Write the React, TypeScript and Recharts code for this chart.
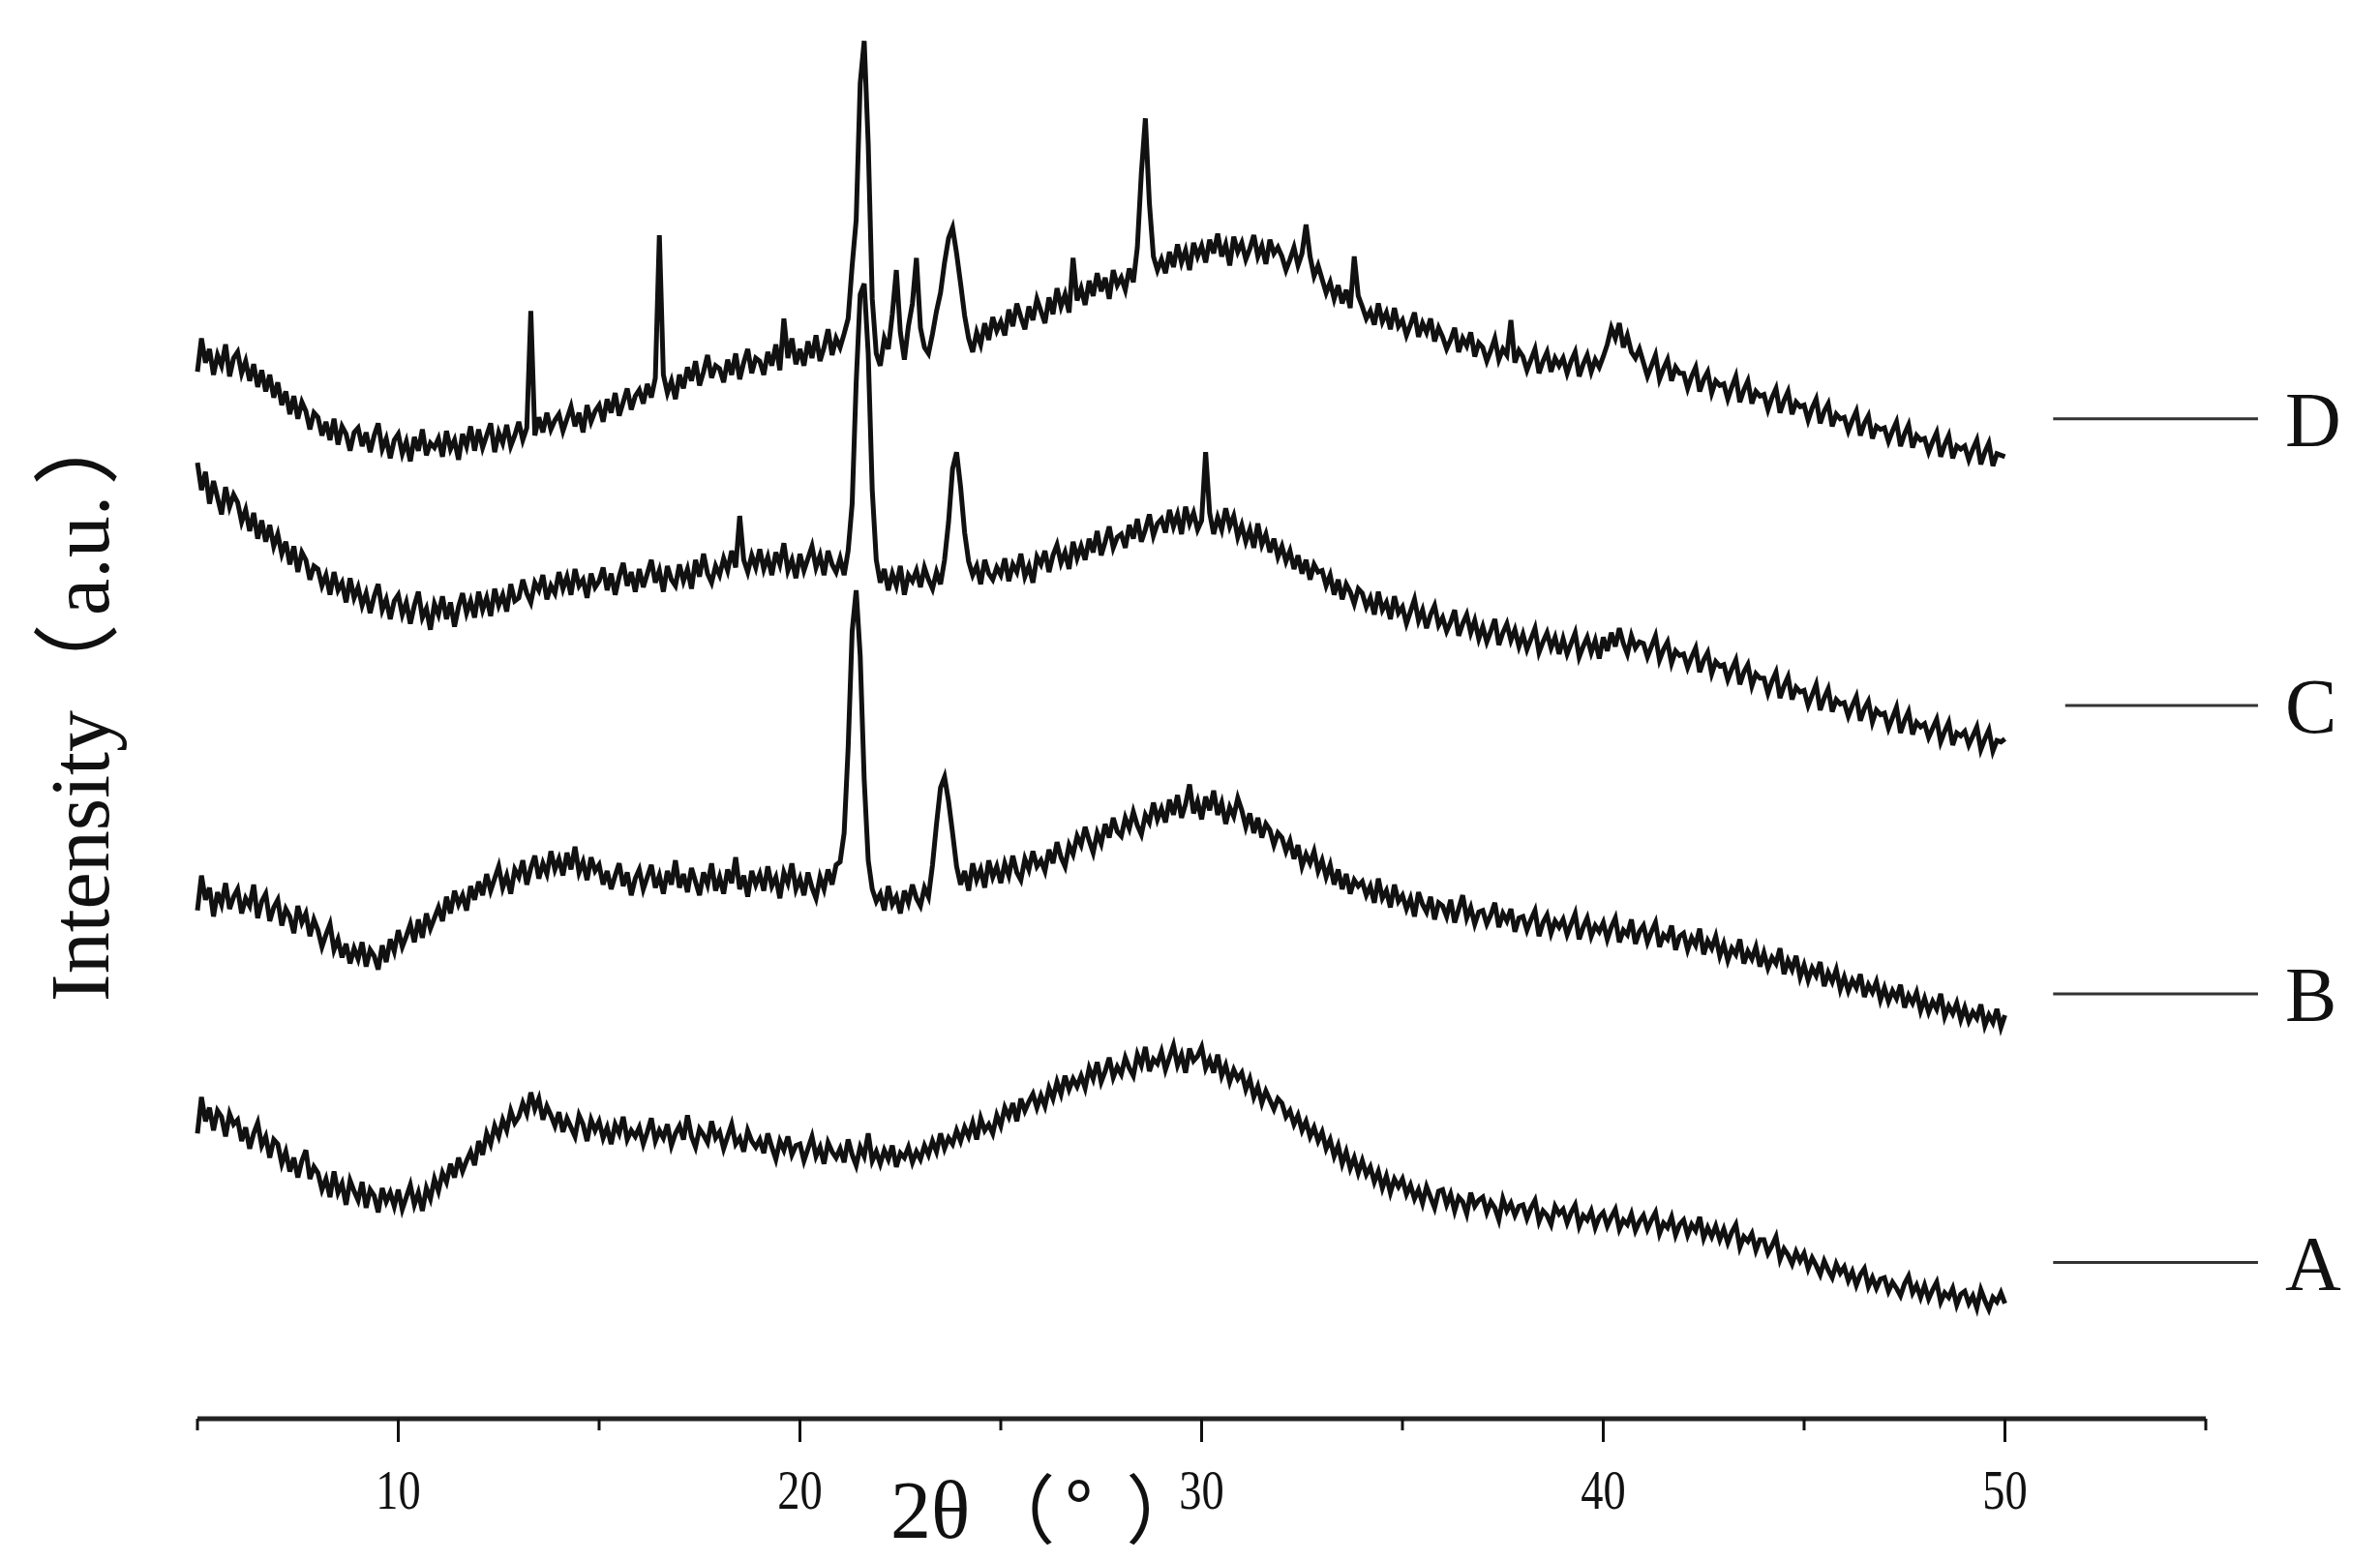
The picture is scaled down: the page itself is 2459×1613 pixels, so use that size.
import React from "react";
import { LineChart, Line, XAxis, YAxis, ReferenceLine } from "recharts";

// 2θ grid: 5.0 .. 50.0 in 0.1° steps (one row per degree below)
const X_START = 5;
const X_STEP = 0.1;

// intensities (arbitrary units, height above the axis)
const sampleA = [
  188, 212, 196, 205, 190, 203, 199, 186, 201, 194,
  197, 183, 192, 178, 188, 195, 180, 186, 172, 184,
  181, 168, 176, 163, 172, 159, 170, 177, 158, 166,
  162, 151, 158, 146, 163, 149, 155, 141, 157, 150,
  144, 156, 139, 151, 147, 136, 152, 143, 149, 140,
  151, 138, 146, 154, 141, 149, 137, 152, 145, 158,
  150, 162, 156, 168, 159, 172, 163, 170, 176, 167,
  183, 174, 188, 181, 193, 186, 197, 190, 203, 195,
  199, 208, 201, 215, 204, 211, 197, 206, 200, 193,
  202, 189, 198, 192, 186, 200, 194, 183, 197, 190,
  196, 185, 192, 181, 194, 188, 199, 184, 190, 186,
  192, 181, 189, 198, 183, 190, 185, 194, 180, 188,
  193, 184, 200, 186, 179, 191, 187, 182, 196, 185,
  189, 178, 186, 194, 181, 185, 176, 190, 183, 179,
  184, 175, 188, 179, 171, 183, 177, 186, 174, 180,
  181, 170, 178, 186, 173, 179, 168, 182, 176, 172,
  178, 169, 184, 174, 167, 179, 173, 188, 170, 176,
  168, 177, 171, 180, 166, 175, 172, 179, 169, 176,
  171, 180, 174, 183, 176, 188, 178, 185, 181, 190,
  183, 192, 186, 195, 184, 198, 190, 194, 188, 200,
  193, 205, 199, 208, 196, 211, 203, 209, 214, 205,
  213, 206, 218, 211, 222, 214, 226, 217, 224, 219,
  226, 218, 231, 224, 235, 222, 229, 238, 225, 232,
  227, 238, 231, 226, 240, 233, 245, 229, 237, 234,
  242, 230, 238, 246, 233, 240, 228, 244, 236, 239,
  245, 231, 237, 228, 240, 226, 233, 222, 230, 224,
  228, 217, 224, 212, 219, 208, 216, 210, 204, 211,
  208, 199, 203, 194, 200, 190, 196, 186, 192, 183,
  189, 178, 184, 173, 180, 168, 176, 165, 172, 162,
  170, 161, 166, 156, 163, 152, 160, 149, 158, 153,
  158, 148, 154, 145, 151, 142, 153, 146, 139, 150,
  151, 141, 148, 137, 146, 143, 135, 149, 140, 144,
  146, 136, 143, 139, 131, 145, 137, 142, 134, 140,
  141, 132, 139, 144, 130, 137, 134, 128, 140, 135,
  138, 129, 136, 141, 127, 134, 131, 137, 126, 133,
  136, 127, 133, 138, 125, 131, 128, 135, 124, 130,
  134, 125, 131, 136, 122, 129, 126, 133, 121, 128,
  131, 121, 128, 124, 133, 119, 126, 120, 127, 118,
  125, 116, 123, 128, 113, 120, 117, 122, 111, 118,
  118, 109, 114, 120, 105, 112, 108, 102, 110, 104,
  109, 99, 106, 101, 95, 104, 98, 93, 102, 96,
  100, 91, 97, 88, 95, 99, 87, 93, 86, 92,
  93, 84, 90, 86, 81, 89, 94, 83, 88, 80,
  88, 79, 85, 90, 77, 83, 80, 86, 75, 82,
  84, 76, 81, 73, 85, 78, 72, 80, 77, 83,
  76,
];

const sampleB = [
  335, 358, 342, 350, 331, 347, 339, 353, 336, 344,
  349, 333, 343, 338, 352, 330, 341, 346, 328, 337,
  342, 325, 336, 331, 320, 338, 327, 333, 318, 329,
  322, 311, 319, 326, 309, 316, 304, 313, 300, 310,
  303, 314, 298, 309, 305, 296, 312, 301, 316, 308,
  322, 311, 318, 326, 314, 329, 317, 333, 323, 330,
  337, 328, 344, 333, 348, 339, 345, 335, 351, 342,
  354, 345, 359, 348, 356, 364, 350, 358, 346, 362,
  357, 368, 352, 363, 371, 356, 366, 359, 374, 362,
  369, 358, 373, 362, 377, 360, 367, 355, 370, 361,
  365, 352, 361, 349, 358, 366, 351, 360, 345, 356,
  362, 349, 357, 365, 350, 358, 346, 361, 352, 368,
  350, 359, 347, 363, 354, 345, 360, 352, 366, 348,
  357, 346, 362, 353, 370, 349, 358, 344, 361, 352,
  359, 348, 364, 351, 357, 343, 360, 353, 366, 349,
  356, 345, 360, 350, 343, 357, 349, 362, 352, 365,
  367, 386, 442, 519, 546, 503, 421, 368, 349, 341,
  346, 335, 351, 339, 344, 333, 348, 340, 352, 343,
  338, 350, 344, 365, 392, 416, 423, 407, 386, 364,
  352, 361, 348, 366, 355, 362, 350, 368, 357, 364,
  353, 366, 358, 371, 360, 355, 369, 362, 374, 364,
  368, 361, 375, 366, 380, 370, 364, 378, 372, 384,
  378, 390, 381, 373, 386, 379, 392, 383, 396, 387,
  384, 396, 389, 400, 391, 385, 398, 393, 406, 395,
  402, 393, 408, 398, 411, 396, 405, 418, 399, 407,
  395, 410, 401, 414, 398, 406, 392, 403, 397, 409,
  401, 390, 399, 386, 396, 383, 392, 388, 378, 386,
  383, 374, 381, 369, 378, 364, 372, 366, 374, 361,
  368, 357, 365, 352, 362, 349, 359, 346, 355, 351,
  354, 345, 351, 340, 356, 343, 348, 337, 352, 341,
  345, 336, 343, 331, 347, 339, 334, 344, 329, 340,
  338, 331, 342, 327, 336, 345, 330, 337, 326, 334,
  335, 326, 332, 340, 324, 333, 328, 336, 321, 330,
  331, 322, 329, 335, 318, 327, 332, 320, 328, 324,
  329, 319, 326, 333, 316, 324, 330, 318, 325, 321,
  327, 316, 324, 330, 314, 322, 319, 329, 313, 321,
  325, 314, 321, 327, 311, 319, 316, 325, 309, 318,
  320, 309, 317, 312, 323, 306, 315, 310, 318, 305,
  313, 302, 310, 306, 316, 300, 308, 303, 311, 298,
  307, 297, 304, 300, 310, 293, 302, 296, 305, 291,
  299, 289, 297, 292, 301, 285, 294, 288, 296, 283,
  291, 282, 289, 284, 293, 278, 286, 281, 288, 276,
  284, 275, 282, 277, 286, 271, 279, 274, 281, 269,
  277, 268, 275, 270, 280, 265, 272, 267, 274, 263,
  271, 262, 268, 264, 273, 259, 266, 261, 270, 258,
  266,
];

const sampleC = [
  630, 612, 624, 603, 618, 607, 596, 614, 601, 609,
  604, 591, 599, 585, 597, 580, 592, 578, 589, 575,
  583, 570, 578, 563, 575, 558, 571, 566, 553, 562,
  560, 549, 556, 543, 558, 546, 551, 538, 554, 541,
  548, 536, 544, 531, 542, 550, 533, 540, 527, 539,
  543, 530, 538, 524, 536, 545, 528, 534, 520, 537,
  530, 542, 527, 538, 522, 535, 544, 531, 539, 528,
  545, 533, 541, 529, 547, 536, 543, 532, 550, 539,
  541, 553, 544, 538, 551, 546, 556, 540, 549, 544,
  558, 547, 555, 543, 560, 549, 553, 541, 557, 548,
  552, 561, 546, 557, 543, 555, 564, 549, 558, 545,
  560, 548, 557, 566, 551, 559, 545, 562, 553, 549,
  563, 552, 560, 547, 566, 555, 570, 557, 551, 562,
  556, 567, 559, 572, 561, 595, 566, 558, 569, 561,
  573, 560, 568, 556, 571, 563, 577, 559, 566, 554,
  570, 559, 567, 575, 561, 569, 556, 572, 563, 558,
  567, 556, 572, 603, 683, 741, 748, 702, 612, 566,
  551, 560, 546, 557, 549, 562, 543, 556, 552, 559,
  548, 561, 553, 547, 558, 550, 566, 591, 626, 637,
  614, 584, 565, 556, 562, 550, 566, 557, 553, 561,
  556, 567, 552, 563, 558, 570, 555, 562, 551, 568,
  563, 572, 558, 569, 576, 564, 571, 560, 578, 567,
  575, 566, 580, 571, 585, 569, 578, 588, 574, 581,
  583, 574, 589, 580, 593, 578, 586, 596, 582, 590,
  593, 584, 599, 588, 596, 583, 601, 590, 597, 586,
  592, 637, 597, 583, 594, 586, 600, 588, 595, 581,
  589, 578, 586, 574, 590, 576, 583, 571, 580, 568,
  575, 565, 572, 560, 569, 557, 566, 553, 563, 558,
  559, 549, 556, 543, 553, 540, 550, 545, 537, 547,
  544, 535, 541, 530, 545, 533, 538, 527, 542, 531,
  535, 524, 532, 540, 526, 533, 521, 530, 536, 523,
  528, 519, 525, 533, 516, 524, 530, 518, 526, 514,
  522, 512, 519, 527, 510, 518, 524, 513, 520, 509,
  517, 507, 514, 521, 505, 512, 518, 508, 515, 504,
  514, 504, 511, 518, 502, 509, 515, 505, 513, 501,
  515, 506, 518, 509, 521, 511, 504, 516, 508, 512,
  511, 502, 509, 516, 500, 507, 512, 498, 506, 503,
  504, 495, 502, 508, 492, 500, 505, 491, 499, 496,
  497, 487, 494, 500, 484, 492, 497, 483, 491, 488,
  488, 478, 486, 492, 475, 483, 489, 474, 482, 479,
  480, 470, 477, 484, 467, 475, 481, 466, 474, 471,
  472, 463, 470, 476, 460, 468, 473, 459, 467, 464,
  465, 455, 462, 469, 452, 460, 466, 451, 459, 456,
  458, 449, 455, 461, 446, 453, 459, 444, 452, 450,
  453, 444, 450, 456, 441, 448, 454, 440, 447, 446,
  448,
];

const sampleD = [
  690, 712, 696, 705, 688, 701, 694, 708, 687, 699,
  703, 689, 697, 684, 695, 680, 691, 677, 688, 673,
  683, 668, 677, 662, 674, 659, 670, 664, 652, 663,
  660, 648, 657, 645, 659, 642, 654, 649, 638, 650,
  653, 641, 650, 637, 648, 656, 639, 646, 633, 645,
  649, 636, 644, 631, 647, 638, 652, 635, 643, 640,
  646, 634, 651, 639, 645, 632, 649, 641, 654, 638,
  652, 640, 648, 656, 637, 650, 643, 655, 641, 648,
  657, 645, 653, 730, 648, 660, 650, 663, 652, 658,
  662, 651, 659, 667, 654, 663, 650, 668, 657, 664,
  668, 657, 672, 663, 676, 661, 670, 679, 665, 674,
  678, 669, 682, 673, 686, 780, 688, 676, 684, 672,
  688, 679, 693, 684, 697, 681, 690, 701, 686, 694,
  692, 683, 698, 688, 702, 685, 696, 705, 689, 699,
  697, 688, 703, 694, 708, 691, 725, 699, 712, 695,
  705, 694, 710, 699, 714, 697, 706, 718, 701, 712,
  706, 715, 725, 760, 790, 880, 908, 840, 738, 702,
  694, 712, 705, 728, 757, 716, 698, 720, 735, 765,
  719, 706, 702, 715, 730, 742, 762, 778, 785, 768,
  748, 727, 712, 703, 716, 708, 722, 711, 726, 717,
  723, 714, 731, 720, 735, 726, 718, 733, 724, 738,
  730, 722, 739, 728, 745, 733, 741, 729, 765, 737,
  745, 734, 750, 740, 755, 743, 752, 738, 757, 747,
  752, 744, 758, 749, 772, 821, 857, 801, 766, 757,
  764, 755, 769, 759, 774, 762, 770, 757, 775, 766,
  773, 762, 777, 768, 781, 766, 774, 760, 779, 769,
  775, 764, 771, 780, 766, 773, 761, 777, 768, 772,
  766, 757, 764, 772, 760, 768, 787, 766, 753, 760,
  751, 742, 749, 738, 747, 735, 744, 732, 766, 740,
  733, 725, 730, 721, 735, 723, 729, 718, 732, 720,
  724, 714, 721, 729, 713, 722, 716, 725, 710, 719,
  713, 705, 711, 719, 703, 712, 707, 716, 700, 709,
  706, 697, 704, 712, 698, 705, 701, 724, 696, 704,
  700, 691, 698, 705, 689, 697, 703, 690, 699, 694,
  699, 689, 697, 703, 687, 695, 701, 690, 698, 693,
  700, 708, 719, 712, 722, 706, 714, 703, 699, 705,
  696, 687, 694, 701, 685, 692, 698, 684, 693, 689,
  689, 679, 687, 693, 677, 685, 690, 676, 684, 681,
  682, 672, 680, 687, 670, 678, 684, 669, 677, 674,
  675, 665, 673, 679, 663, 671, 677, 662, 670, 667,
  668, 658, 666, 672, 656, 664, 669, 654, 662, 659,
  660, 651, 658, 664, 648, 656, 661, 646, 654, 652,
  653, 644, 651, 657, 641, 649, 655, 640, 648, 645,
  646, 637, 644, 650, 634, 642, 648, 633, 641, 639,
  641, 632, 639, 645, 629, 637, 643, 628, 636, 635,
  634,
];

const xTicks = [5, 10, 15, 20, 25, 30, 35, 40, 45, 50, 55];
const labelledTicks = [10, 20, 30, 40, 50];

// curve names and the level of their marker line on the right
const curveNames = ["A", "B", "C", "D"];
const markerLevels = [103, 280, 470, 659];
const markerStart = [51.2, 51.2, 51.5, 51.2];
const markerEnd = 56.3;

const data = sampleA.map((a, i) => ({
  x: Math.round((X_START + i * X_STEP) * 10) / 10,
  A: a,
  B: sampleB[i],
  C: sampleC[i],
  D: sampleD[i],
}));

const SERIF = '"Liberation Serif", "DejaVu Serif", serif';
const CJK = '"Noto Sans CJK SC", "Noto Sans CJK JP", sans-serif';
const INK = "#111";

const XTick = (props: any) => {
  const { x, y, payload } = props;
  const major = labelledTicks.includes(payload.value);
  return (
    <g>
      <line x1={x} x2={x} y1={y} y2={y + (major ? 24 : 12)} stroke={INK} strokeWidth={3} />
      {major && (
        <text
          transform={`translate(${x},${y + 93}) scale(0.8,1)`}
          textAnchor="middle"
          fontSize={58}
          fontFamily={SERIF}
          fill={INK}
        >
          {payload.value}
        </text>
      )}
    </g>
  );
};

const XLabel = (props: any) => {
  const vb = props.viewBox || { x: 204, y: 1466, width: 2075, height: 147 };
  return (
    <text x={vb.x + 716} y={vb.y + 123} fontSize={84} fontFamily={SERIF} fill={INK}>
      2θ
      <tspan fontFamily={CJK} fontSize={78} dx={10}>（</tspan>
      <tspan fontFamily={CJK} fontSize={78} dx={10}>°</tspan>
      <tspan fontFamily={CJK} fontSize={78} dx={34}>）</tspan>
    </text>
  );
};

const YLabel = (props: any) => {
  const vb = props.viewBox || { x: 0, y: 0, width: 204, height: 1466 };
  const bx = vb.x + 112;
  const by = vb.y + 1035;
  return (
    <text
      x={bx}
      y={by}
      transform={`rotate(-90 ${bx} ${by})`}
      textAnchor="start"
      fontSize={86}
      fontFamily={SERIF}
      fill={INK}
    >
      Intensity
      <tspan fontFamily={CJK} fontSize={90}>（</tspan>
      <tspan dx={8}>a.u.</tspan>
      <tspan fontFamily={CJK} fontSize={90} dx={10}>）</tspan>
    </text>
  );
};

export default function App() {
  return (
    <div style={{ width: 2459, height: 1613, background: "#fff" }}>
      <style>{"body{margin:0;background:#fff}"}</style>
      <LineChart width={2459} height={1613} data={data} margin={{ top: 0, right: 180, bottom: 0, left: 0 }}>
        <XAxis
          dataKey="x"
          type="number"
          domain={[5, 55]}
          ticks={xTicks}
          interval={0}
          height={147}
          tickSize={0}
          tickMargin={0}
          tickLine={false}
          axisLine={{ stroke: "#222", strokeWidth: 5 }}
          tick={<XTick />}
          label={<XLabel />}
        />
        <YAxis
          type="number"
          domain={[0, 935]}
          width={204}
          axisLine={false}
          tickLine={false}
          tick={false}
          label={<YLabel />}
        />
        {curveNames.map((name) => (
          <Line
            key={name}
            dataKey={name}
            type="linear"
            stroke={INK}
            strokeWidth={5}
            strokeLinejoin="miter"
            dot={false}
            activeDot={false}
            isAnimationActive={false}
          />
        ))}
        {curveNames.map((name, i) => (
          <ReferenceLine
            key={"m" + name}
            segment={[
              { x: markerStart[i], y: markerLevels[i] },
              { x: markerEnd, y: markerLevels[i] },
            ]}
            ifOverflow="visible"
            stroke="#333"
            strokeWidth={3}
            label={{
              value: name,
              position: "right",
              offset: 28,
              fontSize: 80,
              fontFamily: SERIF,
              fill: INK,
            }}
          />
        ))}
      </LineChart>
    </div>
  );
}
